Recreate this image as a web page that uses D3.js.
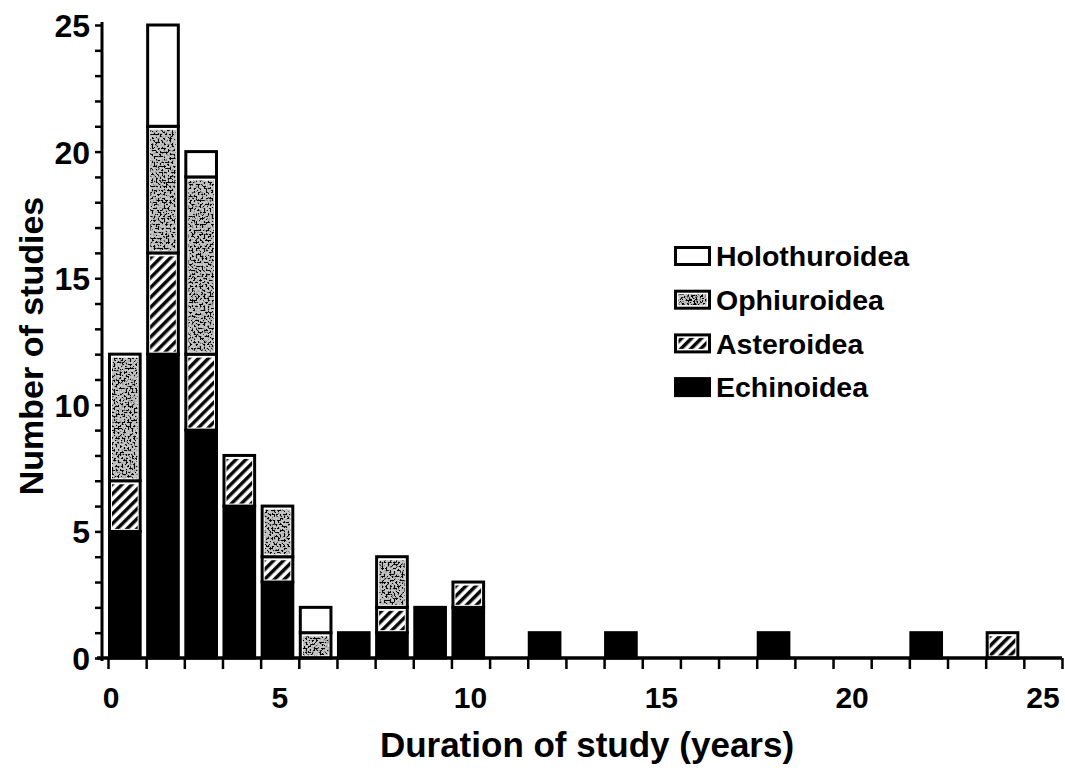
<!DOCTYPE html>
<html>
<head>
<meta charset="utf-8">
<script src="https://cdn.jsdelivr.net/npm/d3@7"></script>
<style>
  body { margin: 0; background: #fff; }
  svg { display: block; }
  text { font-family: "Liberation Sans", Arial, Helvetica, sans-serif; fill: #000; }
</style>
</head>
<body>
<svg id="chart"></svg>
<script>
// duration of study (years) for each bar
const durations = [1, 2, 3, 4, 5, 6, 7, 8, 9, 10, 12, 14, 18, 22, 24];
// number of studies per class, stacked bottom to top
const echinoidea    = [5, 12, 9, 6, 3, 0, 1, 1, 2, 2, 1, 1, 1, 1, 0];
const asteroidea    = [2, 4, 3, 2, 1, 0, 0, 1, 0, 1, 0, 0, 0, 0, 1];
const ophiuroidea   = [5, 5, 7, 0, 2, 1, 0, 2, 0, 0, 0, 0, 0, 0, 0];
const holothuroidea = [0, 4, 1, 0, 0, 1, 0, 0, 0, 0, 0, 0, 0, 0, 0];

const seriesNames = ["Echinoidea", "Asteroidea", "Ophiuroidea", "Holothuroidea"];
const legendOrder = ["Holothuroidea", "Ophiuroidea", "Asteroidea", "Echinoidea"];
const xTickLabels = [0, 5, 10, 15, 20, 25];
const yTickLabels = [0, 5, 10, 15, 20, 25];

const width = 1065, height = 772;
const svg = d3.select("#chart").attr("width", width).attr("height", height);

// patterns / textures
const defs = svg.append("defs");
const hatch = defs.append("pattern")
  .attr("id", "hatch")
  .attr("patternUnits", "userSpaceOnUse")
  .attr("width", 7).attr("height", 7)
  .attr("patternTransform", "rotate(45)");
hatch.append("rect").attr("width", 7).attr("height", 7).attr("fill", "#fff");
hatch.append("line").attr("x1", 1.8).attr("y1", 0).attr("x2", 1.8).attr("y2", 7)
  .attr("stroke", "#000").attr("stroke-width", 3.4);

// speckled texture for Ophiuroidea
const speckle = defs.append("filter").attr("id", "speckle")
  .attr("x", 0).attr("y", 0).attr("width", 1).attr("height", 1);
speckle.append("feTurbulence").attr("type", "fractalNoise")
  .attr("baseFrequency", 0.5).attr("numOctaves", 2).attr("seed", 7).attr("result", "noise");
speckle.append("feColorMatrix").attr("in", "noise").attr("type", "matrix")
  .attr("values", "0 0 0 0 0  0 0 0 0 0  0 0 0 0 0  12 0 0 0 -5.9").attr("result", "dots");
speckle.append("feComposite").attr("in", "dots").attr("in2", "SourceAlpha")
  .attr("operator", "in").attr("result", "clipped");
const merge = speckle.append("feMerge");
merge.append("feMergeNode").attr("in", "SourceGraphic");
merge.append("feMergeNode").attr("in", "clipped");

const fills = {
  Echinoidea: "#000",
  Asteroidea: "url(#hatch)",
  Ophiuroidea: "#c4c4c4",
  Holothuroidea: "#fff"
};

// scales
const x = d3.scaleLinear().domain([0, 25]).range([108, 1062]);
const y = d3.scaleLinear().domain([0, 25]).range([658, 25]);
const step = x(1) - x(0);

// stacked data
const table = durations.map((d, i) => ({
  duration: d,
  Echinoidea: echinoidea[i],
  Asteroidea: asteroidea[i],
  Ophiuroidea: ophiuroidea[i],
  Holothuroidea: holothuroidea[i]
}));
const stacked = d3.stack().keys(seriesNames)(table);

const bars = svg.append("g");
stacked.forEach(layer => {
  const key = layer.key;
  const segs = layer.filter(s => s[1] > s[0]);
  const g = bars.append("g");
  g.selectAll("rect.outer")
    .data(segs)
    .join("rect")
    .attr("class", "outer")
    .attr("x", s => x(s.data.duration - 1) + 1.5)
    .attr("width", step - 7.5)
    .attr("y", s => y(s[1]))
    .attr("height", s => y(s[0]) - y(s[1]))
    .attr("fill", key === "Echinoidea" ? "#000" : "#fff")
    .attr("stroke", "#000")
    .attr("stroke-width", 3);
  if (key === "Asteroidea" || key === "Ophiuroidea") {
    g.selectAll("rect.inner")
      .data(segs)
      .join("rect")
      .attr("class", "inner")
      .attr("x", s => x(s.data.duration - 1) + 4)
      .attr("width", step - 12.5)
      .attr("y", s => y(s[1]) + 3.5)
      .attr("height", s => y(s[0]) - y(s[1]) - 6)
      .attr("fill", fills[key])
      .attr("filter", key === "Ophiuroidea" ? "url(#speckle)" : null);
  }
});

// y axis
const yAxis = svg.append("g")
  .attr("transform", "translate(102,0)")
  .call(d3.axisLeft(y)
    .tickValues(d3.range(0, 26))
    .tickSize(7)
    .tickSizeOuter(0)
    .tickPadding(5)
    .tickFormat(d => yTickLabels.includes(d) ? d : ""));
yAxis.select(".domain").attr("stroke-width", 3).attr("d", `M0,${y(0) + 3}V${y(25) - 3}`);
yAxis.selectAll(".tick line").attr("stroke-width", 2.5);
yAxis.selectAll(".tick text")
  .style("font-family", "'Liberation Sans', Arial, sans-serif")
  .style("font-size", "32px")
  .style("font-weight", "bold")
  .attr("dy", "0.36em");

// x axis
const xAxis = svg.append("g")
  .attr("transform", `translate(0,${y(0)})`)
  .call(d3.axisBottom(x)
    .tickValues(d3.range(0, 26))
    .tickSize(11)
    .tickSizeOuter(0)
    .tickFormat(""));
xAxis.select(".domain").attr("stroke-width", 3.5).attr("d", `M97,0H${x(25)}`);
xAxis.selectAll(".tick line").attr("stroke-width", 2.5);

svg.append("g").selectAll("text")
  .data(xTickLabels)
  .join("text")
  .attr("x", d => d === 0 ? x(0) + 3 : x(d - 0.5))
  .attr("y", 708)
  .attr("text-anchor", "middle")
  .style("font-size", "30px")
  .style("font-weight", "bold")
  .text(d => d);

// axis titles
svg.append("text")
  .attr("x", 587)
  .attr("y", 757)
  .attr("text-anchor", "middle")
  .style("font-size", "35px")
  .style("font-weight", "bold")
  .text("Duration of study (years)");

svg.append("text")
  .attr("transform", "translate(43,346) rotate(-90)")
  .attr("text-anchor", "middle")
  .style("font-size", "34px")
  .style("font-weight", "bold")
  .text("Number of studies");

// legend
const legend = svg.append("g").attr("transform", "translate(674,256)");
const items = legend.selectAll("g")
  .data(legendOrder)
  .join("g")
  .attr("transform", (d, i) => `translate(0,${i * 43.7})`);
items.append("rect")
  .attr("x", 1.5).attr("y", -8.5)
  .attr("width", 34).attr("height", 17)
  .attr("fill", d => d === "Echinoidea" ? "#000" : "#fff")
  .attr("stroke", "#000").attr("stroke-width", 3);
items.filter(d => d === "Asteroidea" || d === "Ophiuroidea")
  .append("rect")
  .attr("x", 4.5).attr("y", -5.5)
  .attr("width", 28).attr("height", 11)
  .attr("fill", d => fills[d])
  .attr("filter", d => d === "Ophiuroidea" ? "url(#speckle)" : null);
items.append("text")
  .attr("x", 42)
  .attr("y", 0)
  .attr("dy", "0.36em")
  .style("font-size", "28.5px")
  .style("font-weight", "bold")
  .text(d => d);
</script>
</body>
</html>
